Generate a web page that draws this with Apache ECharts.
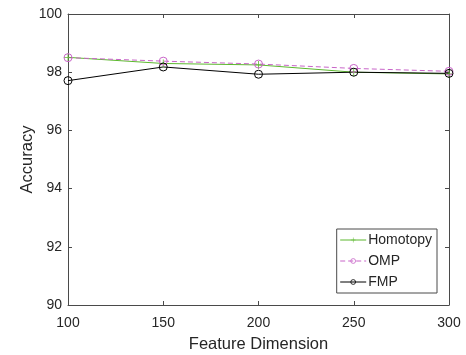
<!DOCTYPE html>
<html>
<head>
<meta charset="utf-8">
<script src="https://cdn.jsdelivr.net/npm/echarts@6/dist/echarts.min.js"></script>
<style>
  html, body { margin: 0; padding: 0; background: #fff; }
  #chart { width: 466px; height: 355px; }
</style>
</head>
<body>
<div id="chart"></div>
<script>
const dims = [100, 150, 200, 250, 300];
const homotopy = [98.51, 98.3, 98.25, 98.0, 97.94];
const omp = [98.5, 98.38, 98.28, 98.13, 98.03];
const fmp = [97.71, 98.18, 97.93, 98.0, 97.96];

const axisColor = "#4a4a4a";
const textColor = "#262626";
const font = "Liberation Sans, Arial, sans-serif";
const plus = "path://M4.5,0h1v10h-1z M0,4.5h10v1h-10z";

const pairs = (ys) => dims.map((d, i) => [d, ys[i]]);

const chart = echarts.init(document.getElementById("chart"));
chart.setOption({
  animation: false,
  grid: { left: 68, right: 17, top: 14, bottom: 50, outerBoundsMode: "none" },
  legend: {
    orient: "vertical",
    right: 29,
    bottom: 62,
    backgroundColor: "#fff",
    borderColor: axisColor,
    borderWidth: 1,
    borderRadius: 0,
    padding: [4, 5, 4, 3],
    itemWidth: 26,
    itemHeight: 6,
    itemGap: 7,
    lineStyle: { width: 1 },
    itemStyle: { borderWidth: 0.8 },
    textStyle: { fontFamily: font, fontSize: 14, color: textColor, padding: [0, 0, 0, -3] },
    data: ["Homotopy", "OMP", "FMP"]
  },
  xAxis: [
    {
      type: "value", min: 100, max: 300, interval: 50,
      name: "Feature Dimension", nameLocation: "middle", nameGap: 31, nameMoveOverlap: false,
      nameTextStyle: { fontFamily: font, fontSize: 16.5, color: textColor },
      axisLine: { lineStyle: { color: axisColor } },
      axisTick: { inside: true, length: 4, lineStyle: { color: axisColor } },
      axisLabel: { fontFamily: font, fontSize: 14, color: textColor, margin: 11 },
      splitLine: { show: false }
    },
    {
      type: "value", min: 100, max: 300, interval: 50, position: "top",
      axisLine: { show: true, lineStyle: { color: axisColor } },
      axisTick: { inside: true, length: 4, lineStyle: { color: axisColor } },
      axisLabel: { show: false },
      splitLine: { show: false }
    }
  ],
  yAxis: [
    {
      type: "value", min: 90, max: 100, interval: 2,
      name: "Accuracy", nameLocation: "middle", nameGap: 32, nameMoveOverlap: false,
      nameTextStyle: { fontFamily: font, fontSize: 16.5, color: textColor },
      axisLine: { show: true, lineStyle: { color: axisColor } },
      axisTick: { show: true, inside: true, length: 4, lineStyle: { color: axisColor } },
      axisLabel: { fontFamily: font, fontSize: 14, color: textColor, margin: 6 },
      splitLine: { show: false }
    },
    {
      type: "value", min: 90, max: 100, interval: 2, position: "right",
      axisLine: { show: true, lineStyle: { color: axisColor } },
      axisTick: { show: true, inside: true, length: 4, lineStyle: { color: axisColor } },
      axisLabel: { show: false },
      splitLine: { show: false }
    }
  ],
  series: [
    {
      name: "Homotopy", type: "line", data: pairs(homotopy),
      symbol: plus, symbolSize: 8,
      lineStyle: { color: "#5cb82e", width: 1 },
      itemStyle: { color: "#5cb82e" }
    },
    {
      name: "OMP", type: "line", data: pairs(omp),
      symbol: "circle", symbolSize: 8,
      lineStyle: { color: "#c864c8", width: 1, type: [5, 3] },
      itemStyle: { color: "rgba(255,255,255,0)", borderColor: "#c864c8", borderWidth: 1 }
    },
    {
      name: "FMP", type: "line", data: pairs(fmp),
      symbol: "circle", symbolSize: 8,
      lineStyle: { color: "#000", width: 1 },
      itemStyle: { color: "rgba(255,255,255,0)", borderColor: "#000", borderWidth: 1 }
    }
  ]
});
</script>
</body>
</html>
